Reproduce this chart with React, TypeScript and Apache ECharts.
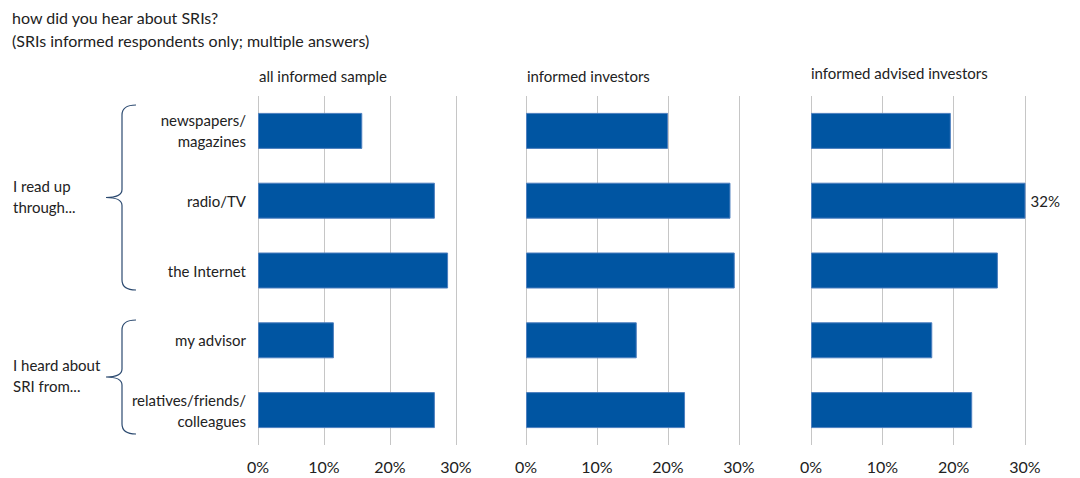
import React, { useEffect, useRef } from "react";
import * as echarts from "echarts";

const categories = [
  "newspapers/\nmagazines",
  "radio/TV",
  "the Internet",
  "my advisor",
  "relatives/friends/\ncolleagues",
];
const panelTitles = ["all informed sample", "informed investors", "informed advised investors"];
const allSample = [15.8, 26.8, 28.8, 11.5, 26.8];
const investors = [20.0, 28.8, 29.4, 15.6, 22.4];
const advised = [19.6, 32, 26.2, 17.0, 22.6];
const labelled = [[], [], [1]];
const xTicks = [0, 10, 20, 30];
const groupLabels = ["I read up\nthrough...", "I heard about\nSRI from..."];
const titleLines = ["how did you hear about SRIs?", "(SRIs informed respondents only; multiple answers)"];

const FONT = "Lato";
const BLUE = "#0055A2";

function braceD(h: number, w: number) {
  const m = h / 2;
  return `M${w},0 C${w - 8},0 ${w - 14},2 ${w - 14},10 L${w - 14},${m - 8} C${w - 14},${m - 3} ${w - 20},${m} 0,${m} C${w - 20},${m} ${w - 14},${m + 3} ${w - 14},${m + 8} L${w - 14},${h - 10} C${w - 14},${h - 2} ${w - 8},${h} ${w},${h}`;
}

echarts.graphic.registerShape("braceA", echarts.graphic.extendPath(braceD(185, 30), {}));
echarts.graphic.registerShape("braceB", echarts.graphic.extendPath(braceD(114, 30), {}));

export default function App() {
  const ref = useRef<HTMLDivElement>(null);
  useEffect(() => {
    const chart = echarts.init(ref.current!, null, { renderer: "svg" });
    const panels = [allSample, investors, advised];
    const lefts = [258, 526, 811];
    const widths = [198, 213, 214];
    const grids = lefts.map((l, i) => ({ left: l, width: widths[i], top: 96, height: 349 }));
    const xAxes = grids.map((_, i) => ({
      type: "value",
      gridIndex: i,
      min: 0,
      max: 30,
      interval: 10,
      axisLine: { show: false },
      axisTick: { show: false },
      splitLine: { show: true, lineStyle: { color: "#c6c6c6", width: 1 } },
      axisLabel: {
        formatter: (v: number) => (xTicks.includes(v) ? v + "%" : ""),
        color: "#222",
        fontFamily: FONT,
        fontSize: 16,
        margin: 13,
      },
    }));
    const yAxes = grids.map((_, i) => ({
      type: "category",
      gridIndex: i,
      data: categories,
      inverse: true,
      axisLine: { show: false },
      axisTick: { show: false },
      axisLabel: {
        show: i === 0,
        color: "#222",
        fontFamily: FONT,
        fontSize: 15,
        lineHeight: 21,
        margin: 12,
        align: "right",
      },
    }));
    const series = panels.map((vals, i) => ({
      type: "bar",
      xAxisIndex: i,
      yAxisIndex: i,
      barWidth: 36,
      clip: true,
      itemStyle: { color: BLUE, borderColor: "#4d7fbf", borderWidth: 1 },
      data: vals.map((v, j) =>
        labelled[i].includes(j)
          ? {
              value: v,
              label: {
                show: true,
                position: "right",
                distance: 5,
                formatter: (p: any) => Math.round(p.value) + "%",
                color: "#222",
                fontFamily: FONT,
                fontSize: 15,
              },
            }
          : v
      ),
    }));
    const txt = (x: number, y: number, text: string, size = 15, extra: any = {}) => ({
      type: "text",
      x,
      y,
      style: {
        text,
        fill: "#222",
        font: `${size}px ${FONT}`,
        verticalAlign: "middle",
        lineHeight: 21,
        ...extra,
      },
    });
    const braceStyle = { fill: "none", stroke: "#2c4a70", lineWidth: 1.2 };
    const graphic: any[] = [
      txt(12, 17, titleLines[0], 16),
      txt(12, 40, titleLines[1], 16),
      txt(259, 76, panelTitles[0]),
      txt(527, 76, panelTitles[1]),
      txt(811, 73, panelTitles[2]),
      txt(13, 196, groupLabels[0]),
      txt(13, 375, groupLabels[1]),
      { type: "braceA", x: 106, y: 105, style: braceStyle },
      { type: "braceB", x: 106, y: 320, style: braceStyle },
    ];
    chart.setOption({
      animation: false,
      backgroundColor: "#fff",
      grid: grids,
      xAxis: xAxes,
      yAxis: yAxes,
      series,
      graphic,
    });
    return () => chart.dispose();
  }, []);
  return (
    <div
      ref={ref}
      style={{ position: "fixed", left: 0, top: 0, width: 1080, height: 478 }}
    />
  );
}
